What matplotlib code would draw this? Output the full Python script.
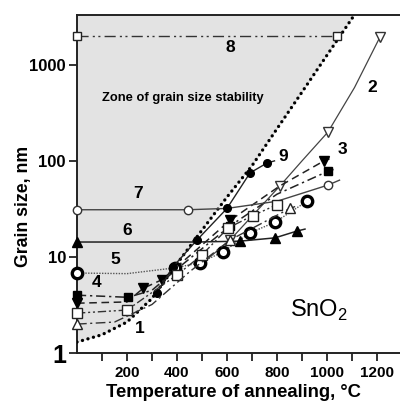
import matplotlib
matplotlib.use("Agg")
import matplotlib.pyplot as plt

narrow = ['Liberation Sans Narrow', 'Liberation Sans', 'DejaVu Sans']

# boundary line (1) of the zone of grain size stability
T1 = [0, 100, 200, 300, 400, 500, 600, 700, 800, 900, 1000, 1100, 1110]
v1 = [1.3, 1.55, 2.1, 3.7, 8.5, 19, 42, 89, 216, 520, 1260, 3040, 3300]

T2 = [500, 612, 812, 900, 1004, 1110, 1212]
v2 = [8.5, 15, 55, 100, 200, 580, 1950]
T3 = [0, 200, 264, 340, 480, 612, 812, 988, 1010]
v3 = [3.3, 3.4, 4.7, 5.8, 12, 24, 55, 100, 105]
T4 = [0, 204, 300, 400, 612, 800, 1004, 1030]
v4 = [4.0, 3.8, 4.5, 7.5, 21, 45, 78, 82]
T5 = [0, 200, 392, 492, 584, 692, 792, 920]
v5 = [6.8, 6.7, 7.7, 8.7, 11.3, 17.8, 23, 38]
T6 = [0, 480, 652, 792, 880, 912]
v6 = [14.3, 14.3, 14.6, 15.8, 18.6, 19.5]
T7 = [0, 444, 600, 800, 1004, 1050]
v7 = [31, 31, 32, 38, 56, 63]
T8 = [0, 1040]
v8 = [2000, 2000]
T9 = [320, 384, 480, 600, 692, 760, 790]
v9 = [4.2, 7.9, 15, 32, 75, 95, 100]
Tsq = [0, 200, 400, 500, 604, 704, 800]
vsq = [2.6, 2.8, 6.5, 10.5, 20, 27, 35]
Ttr = [0, 150, 300, 450, 612, 852, 880]
vtr = [2.0, 2.1, 3.2, 7.0, 15, 32, 34]

labels = ['1', '2', '3', '4', '5', '6', '7', '8', '9']
label_T = [252, 1180, 1060, 80, 152, 200, 244, 612, 824]
label_v = [1.8, 575, 130, 5.4, 9.3, 19, 46, 1500, 110]

xticks = [200, 400, 600, 800, 1000, 1200]
yticks = [1, 10, 100, 1000]

fig = plt.figure(figsize=(4, 4.08), dpi=100)
ax = fig.add_axes([0.1925, 0.1348, 0.8075, 0.8284])
ax.set_yscale('log')
ax.set_xlim(0, 1292)
ax.set_ylim(1, 3300)

ax.fill_between(T1, v1, 3300, color='#e3e3e3', lw=0, zorder=0)
ax.plot(T1, v1, color='black', lw=2.4, ls=(0, (0.01, 1.7)), dash_capstyle='round', zorder=4)

k = dict(clip_on=False, zorder=5)
ax.plot(T2, v2, color='#444444', lw=0.9, marker='v', ms=7, mfc='white', mec='#333333', markevery=[1, 2, 4, 6], **k)
ax.plot(T3, v3, color='#222222', lw=1.1, ls=(0, (5, 3)), marker='v', ms=7, mfc='black', mec='black', markevery=[0, 2, 3, 5, 7], **k)
ax.plot(T4, v4, color='#222222', lw=1.1, ls=(0, (6, 2.5, 1.5, 2.5)), marker='s', ms=6, mfc='black', mec='black', markevery=[0, 1, 4, 6], **k)
ax.plot(T5, v5, color='#555555', lw=1.0, ls=(0, (1, 1)), marker='o', ms=7.5, mfc='white', mec='black', mew=2.4, markevery=[0, 2, 3, 4, 5, 6, 7], **k)
ax.plot(T6, v6, color='#222222', lw=1.1, marker='^', ms=7, mfc='black', mec='black', markevery=[0, 2, 3, 4], **k)
ax.plot(T7, v7, color='#444444', lw=1.0, marker='o', ms=6, mfc='white', mec='#333333', markevery=[0, 1, 4], **k)
ax.plot(T8, v8, color='#333333', lw=1.0, ls=(0, (8, 3, 1.5, 2.5, 1.5, 3)), marker='s', ms=6, mfc='white', mec='#222222', **k)
ax.plot(T9, v9, color='#222222', lw=1.0, marker='o', ms=5.5, mfc='black', mec='black', markevery=[0, 1, 2, 3, 4, 5], **k)
ax.plot(Tsq, vsq, color='#333333', lw=1.0, ls=(0, (6, 2, 1.5, 2, 1.5, 2)), marker='s', ms=7, mfc='white', mec='#222222', **k)
ax.plot(Ttr, vtr, color='#333333', lw=1.0, ls=(0, (7, 2.5, 1.5, 2.5)), marker='^', ms=7, mfc='white', mec='#222222', markevery=[0, 4, 5], **k)

for s, x, y in zip(labels, label_T, label_v):
    ax.text(x, y, s, fontsize=12.5, fontweight='bold', family=narrow, ha='center', va='center', zorder=6)

ax.text(100, 450, 'Zone of grain size stability', fontsize=9.3, fontweight='bold', family=narrow, ha='left', va='center')
ax.text(852, 2.8, r'SnO$_\mathregular{2}$', fontsize=17, family='Liberation Sans', ha='left', va='center')

ax.set_xticks(xticks)
ax.set_xticklabels([str(t) for t in xticks])
ax.set_xticks(range(100, 1300, 200), minor=True)
ax.set_yticks(yticks)
ax.set_yticklabels([str(t) for t in yticks])
ax.yaxis.set_minor_locator(matplotlib.ticker.NullLocator())
ax.tick_params(which='both', direction='out', length=6, width=1.3, color='#222222')
ax.tick_params(axis='x', pad=3)
ax.tick_params(axis='y', pad=2)
for lab in ax.get_xticklabels():
    lab.set_family(narrow)
    lab.set_fontweight('bold')
    lab.set_fontsize(11)
for lab in ax.get_yticklabels():
    lab.set_family(narrow)
    lab.set_fontweight('bold')
    lab.set_fontsize(12)
ax.get_yticklabels()[0].set_fontsize(18)

for sp in ['left', 'top', 'bottom']:
    ax.spines[sp].set_linewidth(1.4)
    ax.spines[sp].set_color('#222222')
ax.spines['right'].set_visible(False)

fig.text(0.058, 0.495, 'Grain size, nm', rotation=90, ha='center', va='center',
         fontsize=12.7, fontweight='bold', family=narrow)
fig.text(0.583, 0.039, 'Temperature of annealing, °C', ha='center', va='center',
         fontsize=13.3, fontweight='bold', family=narrow)

fig.savefig('out.png', dpi=100)
